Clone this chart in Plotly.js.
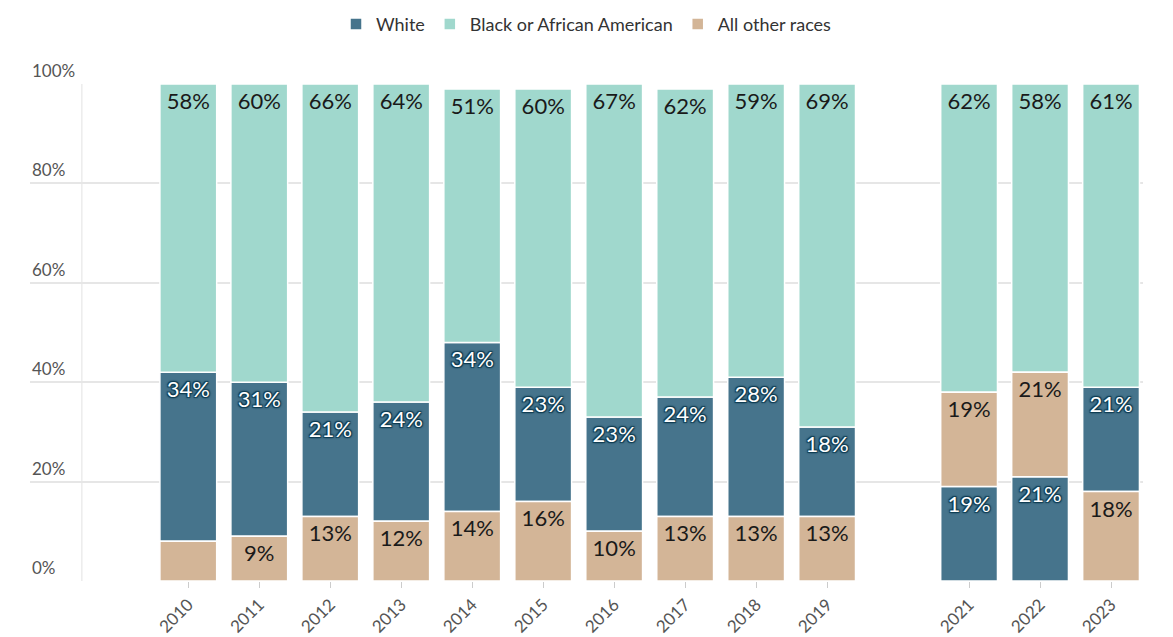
<!DOCTYPE html>
<html>
<head>
<meta charset="utf-8">
<script src="https://cdn.plot.ly/plotly-3.0.1.min.js"></script>
<style>
  html, body { margin: 0; padding: 0; background: #ffffff; }
  #chart { width: 1173px; height: 637px; }
</style>
</head>
<body>
<div id="chart"></div>
<script>
// ---- data ----
const years = [2010, 2011, 2012, 2013, 2014, 2015, 2016, 2017, 2018, 2019, 2021, 2022, 2023];
const yearLabels = ["2010", "2011", "2012", "2013", "2014", "2015", "2016", "2017", "2018", "2019", "2021", "2022", "2023"];
const white = [34, 31, 21, 24, 34, 23, 23, 24, 28, 18, 19, 21, 21];
const black = [58, 60, 66, 64, 51, 60, 67, 62, 59, 69, 62, 58, 61];
const other = [8, 9, 13, 12, 14, 16, 10, 13, 13, 13, 19, 21, 18];
const seriesNames = ["White", "Black or African American", "All other races"];
const yTickVals = [0, 20, 40, 60, 80, 100];
const yTickText = ["0%", "20%", "40%", "60%", "80%", "100%"];

// ---- styles ----
const FONT = "Lato, 'Open Sans', sans-serif";
const colors = { White: "#46748c", Black: "#a0d8cd", Other: "#d3b597" };

// per-bar stacking: smallest segment at the bottom (ties: White before Other)
const seriesVals = [white, other, black];
const bases = seriesVals.map(() => []);
years.forEach((y, i) => {
  const order = [0, 1, 2].sort((a, b) => (seriesVals[a][i] - seriesVals[b][i]) || (a - b));
  let acc = 0;
  order.forEach(k => { bases[k][i] = acc; acc += seriesVals[k][i]; });
});

function labels(vals) { return vals.map(v => v >= 9 ? v + "%" : ""); }

const common = {
  type: "bar",
  x: years,
  width: 0.8,
  textposition: "inside",
  insidetextanchor: "end",
  constraintext: "none",
  hoverinfo: "skip"
};

const outline = "1px 1px 1px #0f3d53, -1px -1px 1px #0f3d53, 1px -1px 1px #0f3d53, -1px 1px 1px #0f3d53, 0px 0px 3px #0f3d53";

const traces = [
  Object.assign({}, common, {
    name: seriesNames[0], y: white, base: bases[0], text: labels(white),
    marker: { color: colors.White, line: { color: "#ffffff", width: 1.5 } },
    textfont: { family: FONT, size: 22, color: "#ffffff", shadow: outline }
  }),
  Object.assign({}, common, {
    name: seriesNames[1], y: black, base: bases[2], text: labels(black),
    marker: { color: colors.Black, line: { color: "#ffffff", width: 1.5 } },
    textfont: { family: FONT, size: 22, color: "#1a1a1a" }
  }),
  Object.assign({}, common, {
    name: seriesNames[2], y: other, base: bases[1], text: labels(other),
    marker: { color: colors.Other, line: { color: "#ffffff", width: 1.5 } },
    textfont: { family: FONT, size: 22, color: "#1a1a1a" }
  })
];

const annotations = yTickVals.map((v, i) => ({
  xref: "paper", yref: "y", x: 0, y: v,
  xanchor: "left", yanchor: "bottom", yshift: 1,
  text: yTickText[i], showarrow: false,
  font: { family: FONT, size: 17, color: "#555555" }
}));

const layout = {
  width: 1173, height: 637,
  margin: { l: 30, r: 30, t: 84, b: 56, autoexpand: false },
  paper_bgcolor: "#ffffff", plot_bgcolor: "#ffffff",
  barmode: "overlay",
  showlegend: true,
  legend: {
    orientation: "h", xref: "container", yref: "container",
    x: 0.5, xanchor: "center", y: 0.962, yanchor: "middle",
    font: { family: FONT, size: 18, color: "#333333" },
    traceorder: "normal", itemclick: false, itemdoubleclick: false,
    itemwidth: 30, tracegroupgap: 0
  },
  xaxis: {
    range: [2007.77, 2023.45],
    tickmode: "array", tickvals: years, ticktext: yearLabels,
    tickangle: -45,
    ticks: "outside", ticklen: 6, tickcolor: "#cccccc",
    tickfont: { family: FONT, size: 17, color: "#555555" },
    showgrid: false, zeroline: false, showline: false,
    fixedrange: true
  },
  yaxis: {
    range: [0, 100],
    tickmode: "array", tickvals: yTickVals,
    showticklabels: false,
    showgrid: true, gridcolor: "#e6e6e6", gridwidth: 1.5,
    zeroline: false, showline: false, fixedrange: true
  },
  shapes: [{
    type: "line", xref: "x", yref: "paper", x0: 2008.5, x1: 2008.5, y0: 0, y1: 1,
    line: { color: "#ececec", width: 1.5 }, layer: "below"
  }],
  annotations: annotations
};

Plotly.newPlot("chart", traces, layout, { displayModeBar: false, responsive: false });
</script>
</body>
</html>
